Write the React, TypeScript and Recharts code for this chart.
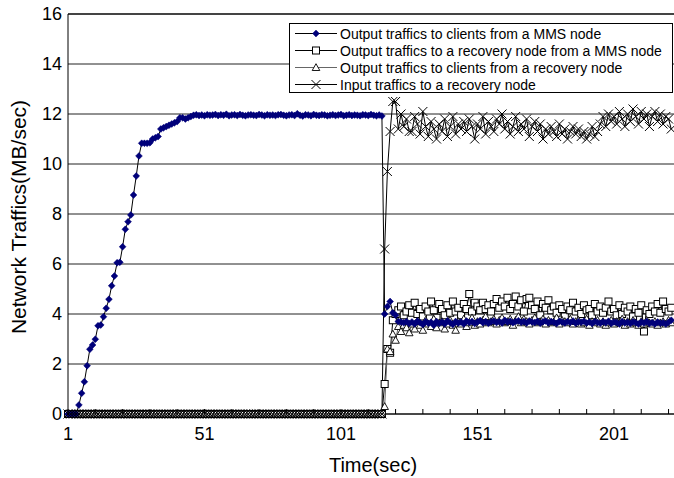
import React from "react"
import { CartesianGrid, Label, Line, LineChart, ReferenceLine, XAxis, YAxis } from "recharts"

// seconds 1..116: the recovery node is idle
const idle = [
    0, 0, 0, 0, 0, 0, 0, 0, 0, 0, 0, 0, 0, 0, 0, 0, 0, 0, 0, 0,
    0, 0, 0, 0, 0, 0, 0, 0, 0, 0, 0, 0, 0, 0, 0, 0, 0, 0, 0, 0,
    0, 0, 0, 0, 0, 0, 0, 0, 0, 0, 0, 0, 0, 0, 0, 0, 0, 0, 0, 0,
    0, 0, 0, 0, 0, 0, 0, 0, 0, 0, 0, 0, 0, 0, 0, 0, 0, 0, 0, 0,
    0, 0, 0, 0, 0, 0, 0, 0, 0, 0, 0, 0, 0, 0, 0, 0, 0, 0, 0, 0,
    0, 0, 0, 0, 0, 0, 0, 0, 0, 0, 0, 0, 0, 0, 0, 0,
]

const mmsToClients = [
    0, 0, 0, 0, 0.36, 0.83, 1.29, 1.93, 2.59, 2.76, 2.99, 3.53, 3.56, 3.89, 4.23, 4.59, 5.13, 5.52, 6.05, 6.07,
    6.69, 7.39, 7.69, 7.96, 8.76, 9.52, 10.32, 10.83, 10.83, 10.83, 10.85,
    11.0, 11.05, 11.1, 11.4, 11.45, 11.5, 11.55, 11.6, 11.65, 11.7, 11.85, 11.85, 11.8, 11.85, 11.9, 11.95,
    11.97, 11.94, 11.96, 11.93, 11.97, 11.95, 11.96, 11.98, 11.94, 11.97,
    11.95, 11.99, 11.93, 11.96, 11.97, 11.94, 11.98, 11.95, 11.93, 11.96,
    11.97, 11.95, 11.94, 11.98, 11.96, 11.93, 11.97, 11.95, 11.96, 11.94,
    11.97, 11.98, 11.95, 11.93, 11.96, 11.97, 11.94, 12.01, 11.95, 11.92,
    11.97, 11.96, 11.93, 11.98, 11.95, 11.94, 11.97, 11.96, 11.93, 11.95,
    11.97, 11.94, 11.96, 11.98, 11.93, 11.95, 11.97, 11.94, 11.96, 11.95,
    11.93, 11.97, 11.96, 11.94, 11.98, 11.95, 11.93, 11.96, 11.92,
    // failover at 117
    4.0, 4.3, 4.5, 4.05, 3.95, 3.7, 3.68, 3.65, 3.7, 3.62,
    3.68, 3.6, 3.72, 3.65, 3.58, 3.7, 3.63, 3.67, 3.55, 3.7,
    3.62, 3.68, 3.6, 3.73, 3.65, 3.58, 3.7, 3.64, 3.68, 3.6,
    3.72, 3.66, 3.7, 3.62, 3.68, 3.74, 3.65, 3.7, 3.63, 3.69,
    3.72, 3.66, 3.7, 3.64, 3.75, 3.68, 3.71, 3.65, 3.7, 3.73,
    3.67, 3.7, 3.64, 3.72, 3.68, 3.66, 3.71, 3.63, 3.69, 3.72,
    3.65, 3.7, 3.67, 3.62, 3.71, 3.68, 3.64, 3.7, 3.66, 3.72,
    3.63, 3.69, 3.67, 3.71, 3.64, 3.68, 3.62, 3.7, 3.66, 3.63,
    3.69, 3.65, 3.71, 3.62, 3.68, 3.66, 3.6, 3.7, 3.64, 3.67,
    3.62, 3.69, 3.65, 3.6, 3.68, 3.64, 3.7, 3.62, 3.66, 3.6,
    3.68, 3.63, 3.65, 3.6, 3.67, 3.75,
]

const mmsToRecoveryAfter = [
    1.2, 2.6, 2.45, 3.75, 4.0, 4.15, 4.3, 3.95, 4.1, 4.35,
    4.05, 4.45, 4.0, 4.2, 3.9, 4.3, 4.1, 4.5, 4.15, 3.85,
    4.4, 4.2, 3.95, 4.35, 4.05, 4.5, 4.1, 4.25, 3.95, 4.4,
    4.2, 4.8, 4.1, 4.45, 4.3, 4.15, 4.45, 4.2, 4.35, 4.1,
    4.4, 4.6, 4.25, 4.5, 4.3, 4.65, 4.2, 4.4, 4.7, 4.3,
    4.55, 4.1, 4.6, 4.65, 4.35, 4.2, 4.5, 3.95, 4.4, 4.25,
    4.55, 4.15, 4.3, 4.05, 4.35, 4.2, 3.9, 4.3, 4.15, 4.45,
    4.1, 4.25, 4.0, 4.35, 4.15, 4.2, 3.95, 4.4, 4.1, 4.3,
    4.05, 4.25, 4.5, 4.1, 4.2, 3.95, 4.35, 4.0, 4.25, 4.1,
    4.3, 3.9, 4.2, 4.05, 4.35, 3.3, 4.15, 4.0, 4.3, 4.1,
    4.4, 4.05, 4.5, 4.2, 4.1, 4.25,
]

const recoveryToClientsAfter = [
    0.3, 2.6, 2.5, 3.2, 2.95, 3.5, 3.3, 3.55, 3.45, 3.25,
    3.6, 3.4, 3.7, 3.55, 3.35, 3.75, 3.6, 3.5, 3.8, 3.45,
    3.65, 3.7, 3.4, 3.6, 3.75, 3.55, 3.35, 3.7, 3.6, 3.8,
    3.5, 3.65, 3.85, 3.55, 3.7, 3.6, 3.75, 3.9, 3.65, 3.7,
    3.8, 3.6, 3.75, 3.85, 3.65, 3.7, 3.8, 3.55, 3.75, 3.9,
    3.65, 3.8, 3.7, 3.6, 3.75, 3.85, 3.65, 3.7, 3.8, 3.6,
    3.75, 3.65, 3.7, 3.85, 3.6, 3.75, 3.7, 3.65, 3.8, 3.6,
    3.7, 3.75, 3.6, 3.65, 3.8, 3.55, 3.7, 3.65, 3.75, 3.6,
    3.7, 3.55, 3.65, 3.75, 3.6, 3.7, 3.65, 3.8, 3.55, 3.7,
    3.6, 3.75, 3.65, 3.55, 3.7, 3.6, 3.75, 3.65, 3.6, 3.7,
    3.55, 3.65, 3.7, 3.6, 3.75, 3.65,
]

const inputToRecoveryAfter = [
    6.6, 9.7, 11.3, 12.5, 12.5, 11.4, 12.0, 11.5, 11.8, 11.3,
    11.3, 11.9, 11.6, 11.2, 12.1, 11.5, 11.1, 11.7, 11.4, 11.0,
    11.6, 11.3, 11.8, 11.1, 11.5, 11.9, 11.2, 11.6, 11.4, 11.7,
    11.3, 11.8, 11.5, 11.0, 11.6, 11.4, 11.9, 11.2, 11.7, 11.5,
    11.3, 11.8, 11.6, 12.0, 11.4, 11.7, 11.2, 11.5, 11.9, 11.3,
    11.6, 11.4, 11.8, 11.1, 11.5, 11.7, 11.3, 11.6, 11.0, 11.4,
    11.2, 11.5, 11.3, 11.1, 11.6, 11.2, 11.4, 11.0, 11.3, 11.5,
    11.2, 11.4, 11.1, 11.3, 11.0, 11.2, 11.5, 11.1, 11.3, 11.6,
    11.9, 11.5, 12.0, 11.7, 11.9, 11.6, 12.1, 11.8, 11.5, 12.0,
    11.7, 12.2, 11.9, 11.6, 12.1, 11.8, 12.0, 11.5, 11.9, 12.1,
    11.7, 12.0, 11.6, 11.9, 11.8, 11.4,
]

const mmsToRecovery = [...idle, ...mmsToRecoveryAfter]
const recoveryToClients = [...idle, ...recoveryToClientsAfter]
const inputToRecovery = [...idle, ...inputToRecoveryAfter]

const timeTicks = [1, 11, 21, 31, 41, 51, 61, 71, 81, 91, 101, 111, 121, 131, 141, 151, 161, 171, 181, 191, 201, 211, 221]
const timeLabels = [1, 51, 101, 151, 201]
const yTicks = [0, 2, 4, 6, 8, 10, 12, 14, 16]

const data = mmsToClients.map((v, i) => ({
    t: i + 1,
    a: v,
    b: mmsToRecovery[i],
    c: recoveryToClients[i],
    d: inputToRecovery[i],
}))

const NAVY = "#00007a"

const diamond = (cx: number, cy: number, key?: string) => (
    <polygon key={key} points={`${cx},${cy - 3.4} ${cx + 3.4},${cy} ${cx},${cy + 3.4} ${cx - 3.4},${cy}`} fill={NAVY} stroke={NAVY} strokeWidth={0.5} />
)
const square = (cx: number, cy: number, key?: string) => (
    <rect key={key} x={cx - 3.5} y={cy - 3.5} width={7} height={7} fill="#fff" stroke="#000" strokeWidth={1} />
)
const triangle = (cx: number, cy: number, key?: string) => (
    <polygon key={key} points={`${cx},${cy - 3.8} ${cx + 3.8},${cy + 3} ${cx - 3.8},${cy + 3}`} fill="#fff" stroke="#000" strokeWidth={0.9} />
)
const cross = (cx: number, cy: number, key?: string) => (
    <path key={key} d={`M${cx - 4.5},${cy - 4.5}L${cx + 4.5},${cy + 4.5}M${cx - 4.5},${cy + 4.5}L${cx + 4.5},${cy - 4.5}`} stroke="#000" strokeWidth={1} fill="none" />
)

const dotOf = (shape: typeof diamond, name: string) => (p: any) => shape(p.cx, p.cy, `${name}-${p.index}`)

const TimeTick = ({ x, y, payload }: any) => (
    <g>
        <line x1={x} x2={x} y1={y} y2={y - 5} stroke="#000" />
        {timeLabels.includes(payload.value) && (
            <text x={x} y={y + 26} textAnchor="middle" fontSize={18} fill="#000">{payload.value}</text>
        )}
    </g>
)

const legendRows = [
    { label: "Output traffics to clients from a MMS node", shape: diamond, line: "#000" },
    { label: "Output traffics to a recovery node from a MMS node", shape: square, line: "#000" },
    { label: "Output traffics to clients from a recovery node", shape: triangle, line: "#666" },
    { label: "Input traffics to a recovery node", shape: cross, line: "#000" },
]

const App = () => {
    return (
        <div style={{ position: "fixed", left: 0, top: 0, width: 674, height: 478, overflow: "hidden", background: "#fff", fontFamily: "'Liberation Sans', Arial, sans-serif" }}>
            <LineChart width={674} height={478} data={data} margin={{ top: 14, right: 0, bottom: 0, left: 0 }}>
                <CartesianGrid vertical={false} stroke="#222" />
                <XAxis
                    dataKey="t"
                    type="number"
                    domain={[1, 223]}
                    ticks={timeTicks}
                    interval={0}
                    height={64}
                    tickSize={0}
                    tickMargin={0}
                    tickLine={false}
                    tick={<TimeTick />}
                    axisLine={{ stroke: "#000" }}
                >
                    <Label content={({ viewBox }: any) => (
                        <text x={viewBox.x + viewBox.width / 2 + 2} y={viewBox.y + 58} textAnchor="middle" fontSize={20} fill="#000">Time(sec)</text>
                    )} />
                </XAxis>
                <YAxis
                    width={68}
                    domain={[0, 16]}
                    ticks={yTicks}
                    interval={0}
                    tickSize={0}
                    tickMargin={6}
                    tickLine={false}
                    tick={{ fill: "#000", fontSize: 18 }}
                    axisLine={{ stroke: "#000" }}
                >
                    <Label content={({ viewBox }: any) => {
                        const cy = viewBox.y + viewBox.height / 2 + 3
                        return (
                            <text x={20} y={cy} transform={`rotate(-90 20 ${cy})`} textAnchor="middle" dominantBaseline="middle" fontSize={21} fill="#000">Network Traffics(MB/sec)</text>
                        )
                    }} />
                </YAxis>
                <ReferenceLine y={16} stroke="#444" strokeWidth={2} />
                <Line type="linear" dataKey="b" stroke="#000" strokeWidth={1} dot={dotOf(square, "b")} activeDot={false} isAnimationActive={false} />
                <Line type="linear" dataKey="c" stroke="#666" strokeWidth={1} dot={dotOf(triangle, "c")} activeDot={false} isAnimationActive={false} />
                <Line type="linear" dataKey="a" stroke="#000" strokeWidth={1} dot={dotOf(diamond, "a")} activeDot={false} isAnimationActive={false} />
                <Line type="linear" dataKey="d" stroke="#000" strokeWidth={1} dot={dotOf(cross, "d")} activeDot={false} isAnimationActive={false} />
            </LineChart>
            <div style={{ position: "absolute", left: 289, top: 23, width: 384, height: 70, boxSizing: "border-box", border: "1px solid #000", background: "#fff", paddingTop: 1 }}>
                {legendRows.map((r, i) => (
                    <div key={i} style={{ display: "flex", alignItems: "center", height: 17 }}>
                        <svg width={48} height={17} style={{ flex: "none" }}>
                            <line x1={5} x2={47} y1={8.5} y2={8.5} stroke={r.line} strokeWidth={1} />
                            {r.shape(26, 8.5)}
                        </svg>
                        <span style={{ fontSize: 14, color: "#000", whiteSpace: "nowrap", marginLeft: 2 }}>{r.label}</span>
                    </div>
                ))}
            </div>
        </div>
    )
}

export default App
